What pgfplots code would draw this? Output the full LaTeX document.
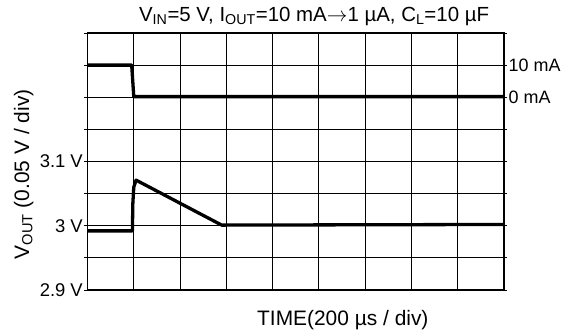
\documentclass[border=0pt]{standalone}
\usepackage{fontspec}
\setmainfont{Liberation Sans}
\usepackage{pgfplots}
\pgfplotsset{compat=1.18}
\begin{document}
\begin{tikzpicture}[font=\fontsize{18}{20}\selectfont]
\begin{axis}[
    name=ax,
    scale only axis,
    width=416.5bp, height=257bp,
    xmin=0, xmax=9, ymin=2.9, ymax=3.3,
    xtick={0,1,...,9}, xticklabels={},
    ytick={2.9,2.95,3,3.05,3.1,3.15,3.2,3.25,3.3},
    yticklabels={2.9 V,,3 V,,3.1 V,,,,},
    grid=major,
    grid style={black, line width=1bp},
    axis line style={black, line width=1.6bp},
    xtick style={draw=none},
    ytick style={black, line width=1bp},
    tick align=outside, major tick length=3bp,
    yticklabel style={inner sep=0pt, xshift=-1.5bp, font=\fontsize{18.5}{22}\selectfont},
    title={V\textsubscript{IN}=5 V, I\textsubscript{OUT}=10 mA$\rightarrow$1 µA, C\textsubscript{L}=10 µF},
    title style={anchor=base, at={(axis description cs:0.544,1)}, yshift=6bp, inner sep=0pt, font=\fontsize{20.5}{23}\selectfont},
    xlabel={TIME(200 µs / div)},
    xlabel style={anchor=base, at={(axis description cs:0.613,0)}, yshift=-35bp, inner sep=0pt, font=\fontsize{21}{23}\selectfont},
    ylabel={V\textsubscript{OUT} (0.05 V / div)},
    ylabel style={anchor=base, at={(axis description cs:-0.14,0.45)}, rotate=0, inner sep=0pt, font=\fontsize{21}{23}\selectfont},
]
% output voltage
\addplot[black, line width=3.3bp, line join=round] coordinates {
    (0,2.992) (0.97,2.992) (0.98,3.035) (1.0,3.06) (1.05,3.071) (2.9,3.001) (9,3.002)
};
% load current
\addplot[black, line width=3.3bp, line join=round] coordinates {
    (0,3.25) (0.955,3.25) (1.0,3.201) (9,3.201)
};
\end{axis}
\begin{axis}[
    scale only axis,
    width=416.5bp, height=257bp,
    xmin=0, xmax=9, ymin=2.9, ymax=3.3,
    hide x axis,
    axis y line*=right,
    y axis line style={draw=none},
    ytick={3.2,3.25}, yticklabels={0 mA,10 mA},
    major tick length=0pt,
    yticklabel style={anchor=west, inner sep=0pt, xshift=4.5bp, font=\fontsize{18}{22}\selectfont},
]
\end{axis}
\pgfresetboundingbox
\path ([shift={(-87.5bp,-41bp)}]ax.south west) rectangle ([shift={(59bp,33bp)}]ax.north east);
\end{tikzpicture}
\end{document}
